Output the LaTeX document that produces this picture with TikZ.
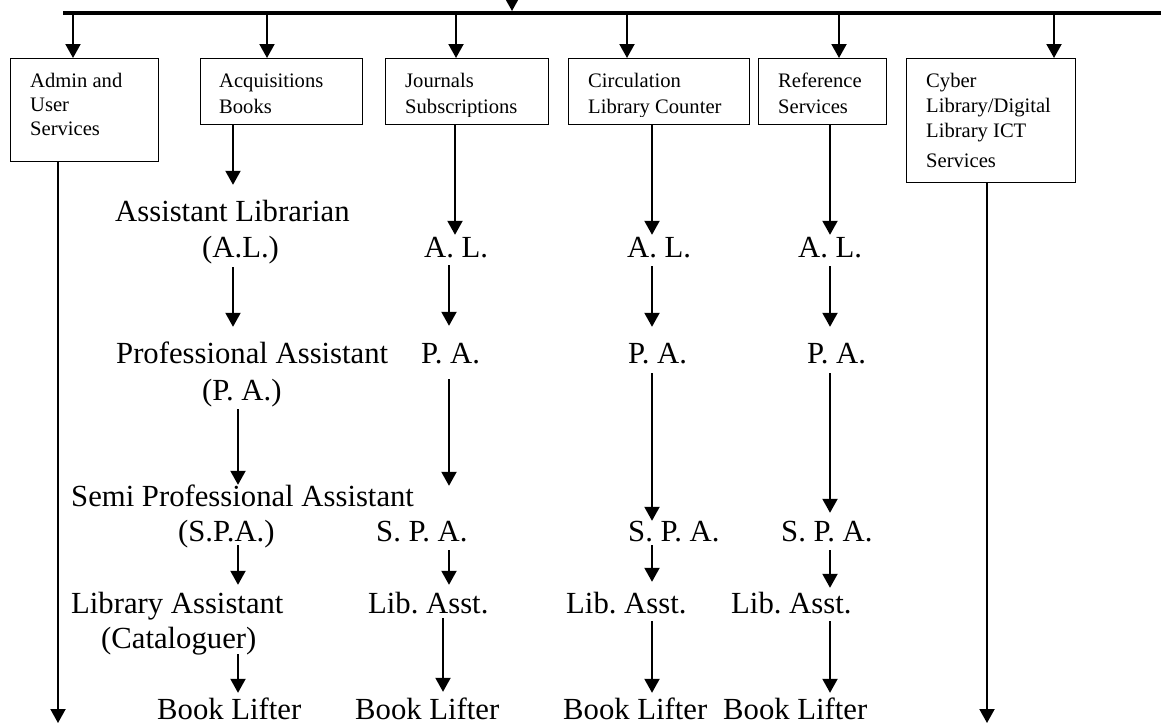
\documentclass[tikz,border=0pt]{standalone}
\usepackage{fontspec}
\setmainfont{Liberation Serif}
\usetikzlibrary{arrows.meta,calc}
\frenchspacing
\newcommand\BigTxt{\fontsize{30.7pt}{36pt}\selectfont}
\newcommand\BoxTxt{\fontsize{20.6pt}{25pt}\selectfont}
\tikzset{
  arr/.style={line width=2pt, -{Triangle[width=15pt,length=14pt]}},
  box/.style={draw, line width=1.3pt, anchor=north west, inner sep=0pt},
  btxt/.style={font=\BoxTxt, anchor=base west, inner sep=0pt},
  job/.style={font=\BigTxt, anchor=base west, inner sep=0pt, text height=21pt, text depth=7pt},
}
\begin{document}
\begin{tikzpicture}[x=1pt,y=-1pt]
\useasboundingbox (0,0) rectangle (1161,724);
\clip (0,0) rectangle (1161,724);
% named coordinates
\coordinate (hubTop) at (512,-20);
\coordinate (hub) at (512,11);
\coordinate (barL) at (63,13);
\coordinate (barR) at (1161,13);
\coordinate (bAd) at (73,0);
\coordinate (bAc) at (267,0);
\coordinate (bJ) at (456,0);
\coordinate (bC) at (627,0);
\coordinate (bR) at (839,0);
\coordinate (bCy) at (1054,0);
\coordinate (xAd) at (58,0);
\coordinate (xA1) at (233,0);
\coordinate (xA2) at (238,0);
\coordinate (xJ0) at (455,0);
\coordinate (xJ1) at (449,0);
\coordinate (xJ2) at (443,0);
\coordinate (xC) at (652,0);
\coordinate (xR) at (830,0);
\coordinate (xCy) at (987,0);
\coordinate (adEnd) at (58,723);
\coordinate (cyEnd) at (987,723);

% top bar
\draw[line width=4pt] (barL) -- (barR);
\draw[arr] (hubTop) -- (hub);

% boxes
\node[box, minimum width=148pt, minimum height=103pt] (admin) at (10,58) {};
\node[box, minimum width=162pt, minimum height=66pt] (acq) at (200,58) {};
\node[box, minimum width=163pt, minimum height=66pt] (jour) at (385,58) {};
\node[box, minimum width=181pt, minimum height=66pt] (circ) at (568,58) {};
\node[box, minimum width=128pt, minimum height=66pt] (ref) at (758,58) {};
\node[box, minimum width=169pt, minimum height=124pt] (cyber) at (906,58) {};

% box texts
\node[btxt] (admin1) at (30,87) {Admin and};
\node[btxt] (admin2) at (30,111) {User};
\node[btxt] (admin3) at (30,135) {Services};
\node[btxt] (acq1) at (219,87) {Acquisitions};
\node[btxt] (acq2) at (219,113) {Books};
\begin{scope}
\clip (jour.north west) rectangle ($(jour.south east)+(0,-8.5)$);
\node[btxt] (jour1) at (405,87) {Journals};
\node[btxt] (jour2) at (405,113) {Subscriptions};
\end{scope}
\begin{scope}
\clip (circ.north west) rectangle ($(circ.south east)+(0,-8.5)$);
\node[btxt] (circ1) at (588,87) {Circulation};
\node[btxt] (circ2) at (588,113) {Library Counter};
\end{scope}
\node[btxt] (ref1) at (778,87) {Reference};
\node[btxt] (ref2) at (778,113) {Services};
\node[btxt] (cy1) at (926,87) {Cyber};
\node[btxt] (cy2) at (926,112) {Library/Digital};
\node[btxt] (cy3) at (926,137) {Library ICT};
\node[btxt] (cy4) at (926,167) {Services};

% branch arrows
\draw[arr] (barL -| bAd) -- (admin.north -| bAd);
\draw[arr] (barL -| bAc) -- (acq.north -| bAc);
\draw[arr] (barL -| bJ) -- (jour.north -| bJ);
\draw[arr] (barL -| bC) -- (circ.north -| bC);
\draw[arr] (barL -| bR) -- (ref.north -| bR);
\draw[arr] (barL -| bCy) -- (cyber.north -| bCy);

% job titles: Acquisitions column
\node[job] (alA1) at (115,221) {Assistant Librarian};
\node[job] (alA2) at (202,257) {(A.L.)};
\node[job] (paA1) at (116,363) {Professional Assistant};
\node[job] (paA2) at (202,400) {(P. A.)};
\node[job] (spA1) at (71,506) {Semi Professional Assistant};
\node[job] (spA2) at (178,541) {(S.P.A.)};
\node[job] (laA1) at (71,613) {Library Assistant};
\node[job] (laA2) at (101,648) {(Cataloguer)};
\node[job] (blA) at (157,719) {Book Lifter};
% Journals column
\node[job] (alJ) at (424,257) {A. L.};
\node[job] (paJ) at (421,363) {P. A.};
\node[job] (spJ) at (376,541) {S. P. A.};
\node[job] (laJ) at (368,613) {Lib. Asst.};
\node[job] (blJ) at (355,719) {Book Lifter};
% Circulation column
\node[job] (alC) at (627,257) {A. L.};
\node[job] (paC) at (628,363) {P. A.};
\node[job] (spC) at (628,541) {S. P. A.};
\node[job] (laC) at (566,613) {Lib. Asst.};
\node[job] (blC) at (563,719) {Book Lifter};
% Reference column
\node[job] (alR) at (798,257) {A. L.};
\node[job] (paR) at (807,363) {P. A.};
\node[job] (spR) at (781,541) {S. P. A.};
\node[job] (laR) at (731,613) {Lib. Asst.};
\node[job] (blR) at (723,719) {Book Lifter};

% Admin and Cyber long arrows
\draw[arr] (admin.south -| xAd) -- (adEnd);
\draw[arr] (cyber.south -| xCy) -- (cyEnd);

% Acquisitions arrows
\draw[arr] (acq.south -| xA1) -- ($(alA1.north -| xA1)+(0,-15)$);
\draw[arr] ($(alA2.south -| xA1)+(0,3)$) -- ($(paA1.north -| xA1)+(0,-15)$);
\draw[arr] ($(paA2.south -| xA2)+(0,2)$) -- (spA1.north -| xA2);
\draw[arr] ($(spA2.south -| xA2)+(0,-3)$) -- ($(laA1.north -| xA2)+(0,-7)$);
\draw[arr] ($(laA2.south -| xA2)+(0,-1)$) -- ($(blA.north -| xA2)+(0,-5)$);

% Journals arrows
\draw[arr] (jour.south -| xJ0) -- ($(alJ.north -| xJ0)+(0,-1)$);
\draw[arr] ($(alJ.south -| xJ1)+(0,1)$) -- ($(paJ.north -| xJ1)+(0,-16)$);
\draw[arr] ($(paJ.south -| xJ1)+(0,9)$) -- ($(spJ.north -| xJ1)+(0,-34)$);
\draw[arr] ($(spJ.south -| xJ1)+(0,2)$) -- ($(laJ.north -| xJ1)+(0,-7)$);
\draw[arr] ($(laJ.south -| xJ2)+(0,-2)$) -- ($(blJ.north -| xJ2)+(0,-6)$);

% Circulation arrows
\draw[arr] (circ.south -| xC) -- ($(alC.north -| xC)+(0,-1)$);
\draw[arr] ($(alC.south -| xC)+(0,2)$) -- ($(paC.north -| xC)+(0,-15)$);
\draw[arr] ($(paC.south -| xC)+(0,3)$) -- ($(spC.north -| xC)+(0,1)$);
\draw[arr] ($(spC.south -| xC)+(0,-3)$) -- ($(laC.north -| xC)+(0,-10)$);
\draw[arr] ($(laC.south -| xC)+(0,1)$) -- ($(blC.north -| xC)+(0,-5)$);

% Reference arrows
\draw[arr] (ref.south -| xR) -- ($(alR.north -| xR)+(0,-1)$);
\draw[arr] ($(alR.south -| xR)+(0,2)$) -- ($(paR.north -| xR)+(0,-15)$);
\draw[arr] ($(paR.south -| xR)+(0,3)$) -- ($(spR.north -| xR)+(0,-7)$);
\draw[arr] ($(spR.south -| xR)+(0,2)$) -- ($(laR.north -| xR)+(0,-4)$);
\draw[arr] ($(laR.south -| xR)+(0,1)$) -- ($(blR.north -| xR)+(0,-5)$);
\end{tikzpicture}
\end{document}
